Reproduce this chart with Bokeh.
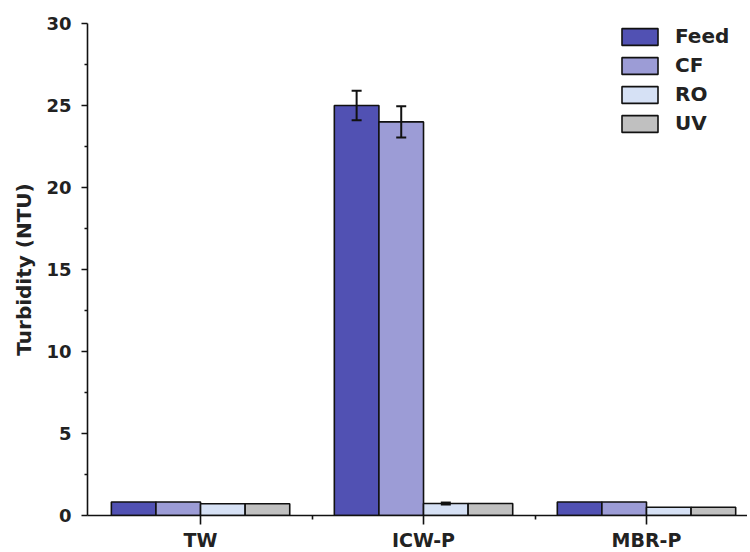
from bokeh.plotting import figure
from bokeh.models import ColumnDataSource, FixedTicker, Range1d, Whisker, TeeHead, Legend, LegendItem
from bokeh.embed import file_html
from bokeh.resources import INLINE

categories = ["TW", "ICW-P", "MBR-P"]
series = ["Feed", "CF", "RO", "UV"]
feed = [0.82, 25.0, 0.82]
cf = [0.82, 24.0, 0.82]
ro = [0.72, 0.73, 0.50]
uv = [0.72, 0.73, 0.50]
feed_err = [0.0, 0.9, 0.0]
cf_err = [0.0, 0.95, 0.0]
ro_err = [0.0, 0.06, 0.0]
uv_err = [0.0, 0.0, 0.0]
colors = ["#5151b3", "#9c9cd6", "#d6e1f5", "#c0c0c0"]
y_ticks = [0, 5, 10, 15, 20, 25, 30]

values = [feed, cf, ro, uv]
errors = [feed_err, cf_err, ro_err, uv_err]

FONT = "DejaVu Sans"
bar_w = 0.2

p = figure(output_backend="svg", toolbar_location=None,
           frame_width=660, frame_height=492,
           min_border_left=87, min_border_right=0, min_border_top=23, min_border_bottom=36,
           x_range=Range1d(0.493, 3.453), y_range=Range1d(0, 30))
p.outline_line_color = None
p.xgrid.visible = False
p.ygrid.visible = False

pos = [i + 1 for i in range(len(categories))]
items = []
for j, (name, vals, errs, col) in enumerate(zip(series, values, errors, colors)):
    xs = [c + (j - 1.5) * bar_w for c in pos]
    src = ColumnDataSource(dict(x=xs, top=vals))
    r = p.vbar(x="x", top="top", width=bar_w, bottom=0, source=src,
               fill_color=col, line_color="#111111", line_width=1.6)
    items.append(LegendItem(label=name, renderers=[r]))
    esrc = ColumnDataSource(dict(x=[x for x, e in zip(xs, errs) if e > 0],
                                 lo=[v - e for v, e in zip(vals, errs) if e > 0],
                                 hi=[v + e for v, e in zip(vals, errs) if e > 0]))
    if len(esrc.data["x"]):
        w = Whisker(base="x", lower="lo", upper="hi", source=esrc, level="overlay",
                    line_color="#111111", line_width=2,
                    upper_head=TeeHead(size=10, line_color="#111111", line_width=2),
                    lower_head=TeeHead(size=10, line_color="#111111", line_width=2))
        p.add_layout(w)

# axes
p.xaxis.ticker = FixedTicker(ticks=pos, minor_ticks=[1.5, 2.5])
p.xaxis.major_label_overrides = {c: lab for c, lab in zip(pos, categories)}
p.xaxis.major_tick_in = 0
p.xaxis.major_tick_out = 9
p.xaxis.minor_tick_in = 0
p.xaxis.minor_tick_out = 4
p.xaxis.major_label_standoff = 4

p.yaxis.ticker = FixedTicker(ticks=y_ticks, minor_ticks=[t + 2.5 for t in y_ticks[:-1]])
p.yaxis.major_tick_in = 0
p.yaxis.major_tick_out = 6
p.yaxis.minor_tick_in = 0
p.yaxis.minor_tick_out = 3
p.yaxis.major_label_standoff = 10
p.yaxis.axis_label = "Turbidity (NTU)"
p.yaxis.axis_label_standoff = 7

for ax in (p.xaxis[0], p.yaxis[0]):
    ax.axis_line_color = "#111111"
    ax.axis_line_width = 1.6
    ax.major_tick_line_color = "#111111"
    ax.major_tick_line_width = 1.6
    ax.minor_tick_line_color = "#111111"
    ax.minor_tick_line_width = 1.6
    ax.major_label_text_font = FONT
    ax.major_label_text_font_style = "bold"
    ax.major_label_text_color = "#222222"
    ax.axis_label_text_font = FONT
    ax.axis_label_text_font_style = "bold"
    ax.axis_label_text_color = "#222222"

p.xaxis.major_label_text_font_size = "19px"
p.yaxis.major_label_text_font_size = "18px"
p.yaxis.axis_label_text_font_size = "20px"

legend = Legend(items=items, location=(530, 380))
legend.glyph_width = 45
legend.glyph_height = 21
legend.label_height = 24
legend.spacing = 5
legend.padding = 0
legend.margin = 0
legend.label_standoff = 13
legend.label_text_font = FONT
legend.label_text_font_style = "bold"
legend.label_text_font_size = "20px"
legend.label_text_color = "#222222"
legend.border_line_alpha = 0
legend.background_fill_alpha = 0
p.add_layout(legend)

open("out.html", "w").write(file_html(p, INLINE))
